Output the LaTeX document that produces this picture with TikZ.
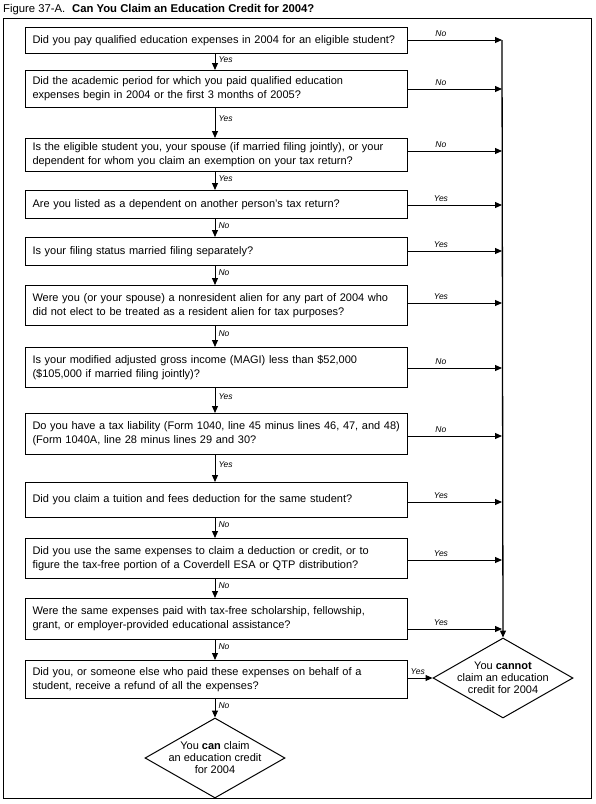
\documentclass[tikz,border=0pt]{standalone}
\usepackage{fontspec}
\setmainfont{Liberation Sans}
\usetikzlibrary{arrows.meta,shapes.geometric}
\begin{document}
\begin{tikzpicture}[x=1pt,y=-1pt,
  qbox/.style={draw, line width=1pt, minimum width=382pt, text width=368pt,
    inner xsep=7pt, inner ysep=0pt, align=left, anchor=north west,
    font=\fontsize{11}{14}\selectfont},
  arr/.style={line width=1pt, -{Triangle[length=7pt,width=6pt]}},
  lab/.style={font=\fontsize{8.5}{9}\selectfont\itshape, inner sep=1pt},
  endbox/.style={draw, diamond, line width=1pt, minimum width=140pt, minimum height=80pt, inner sep=0pt},
  endtext/.style={align=center, font=\fontsize{11}{12}\selectfont}
]
\useasboundingbox (0,0) rectangle (595,804);
\node[anchor=base west, inner sep=0pt, font=\fontsize{11.3}{13}\selectfont] (title) at (3,12.5)
  {Figure 37-A.\hspace{0.6em}\textbf{Can You Claim an Education Credit for 2004?}};
\draw[line width=1pt] (3,18) rectangle (591,798);

\node[qbox, minimum height=26pt] (b1) at (25,27) {Did you pay qualified education expenses in 2004 for an eligible student?};
\node[qbox, minimum height=37pt] (b2) at (25,70) {Did the academic period for which you paid qualified education\\expenses begin in 2004 or the first 3 months of 2005?};
\node[qbox, minimum height=33pt] (b3) at (25,138) {Is the eligible student you, your spouse (if married filing jointly), or your\\dependent for whom you claim an exemption on your tax return?};
\node[qbox, minimum height=28pt] (b4) at (25,190) {Are you listed as a dependent on another person's tax return?};
\node[qbox, minimum height=28pt] (b5) at (25,237) {Is your filing status married filing separately?};
\node[qbox, minimum height=40pt] (b6) at (25,285) {Were you (or your spouse) a nonresident alien for any part of 2004 who\\did not elect to be treated as a resident alien for tax purposes?};
\node[qbox, minimum height=40pt] (b7) at (25,347) {Is your modified adjusted gross income (MAGI) less than \$52,000\\(\$105,000 if married filing jointly)?};
\node[qbox, minimum height=41pt] (b8) at (25,413) {Do you have a tax liability (Form 1040, line 45 minus lines 46, 47, and 48)\\(Form 1040A, line 28 minus lines 29 and 30?};
\node[qbox, minimum height=35pt] (b9) at (25,482) {Did you claim a tuition and fees deduction for the same student?};
\node[qbox, minimum height=40pt] (b10) at (25,538) {Did you use the same expenses to claim a deduction or credit, or to\\figure the tax-free portion of a Coverdell ESA or QTP distribution?};
\node[qbox, minimum height=41pt] (b11) at (25,598) {Were the same expenses paid with tax-free scholarship, fellowship,\\grant, or employer-provided educational assistance?};
\node[qbox, minimum height=38pt] (b12) at (25,660) {Did you, or someone else who paid these expenses on behalf of a\\student, receive a refund of all the expenses?};

\node[endbox] (yes) at (215,758) {};
\node[endtext] (yestext) at (yes.center) {You \textbf{can} claim\\an education credit\\for 2004};
\node[endbox] (no) at (503,678) {};
\node[endtext] (notext) at (no.center) {You \textbf{cannot}\\claim an education\\credit for 2004};

% down arrows
\foreach \a/\b/\t in {b1/b2/Yes, b2/b3/Yes, b3/b4/Yes, b4/b5/No, b5/b6/No, b6/b7/No, b7/b8/Yes, b8/b9/Yes, b9/b10/No, b10/b11/No, b11/b12/No, b12/yes/No}
  \draw[arr] (\a.south -| 215,0) -- node[lab, pos=0.35, anchor=west, xshift=2pt] {\t} (\b.north -| 215,0);

% right arrows to the collecting line
\foreach \b/\y/\t in {b1/40/No, b2/89/No, b3/151/No, b4/205/Yes, b5/251/Yes, b6/303/Yes, b7/368/No, b8/436/No, b9/502/Yes, b10/560/Yes, b11/629/Yes}{
  \coordinate (c\b) at (502,\y);
  \draw[arr] (\b.east |- c\b) -- node[lab, pos=0.35, above, yshift=2pt] {\t} (c\b);
}
\draw[line width=1.3pt, -{Triangle[length=7pt,width=6pt]}] (cb1) -- (no.north);
\draw[arr] (b12.east |- no.west) -- node[lab, pos=0.4, above, yshift=2pt] {Yes} (no.west);
\end{tikzpicture}
\end{document}
